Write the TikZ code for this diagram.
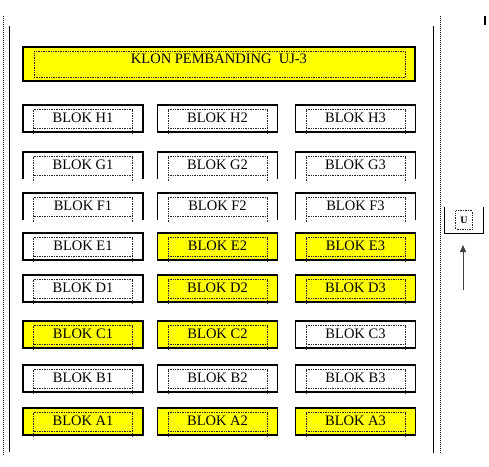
\documentclass[tikz,border=0pt]{standalone}
\usepackage{fontspec}
\setmainfont{Liberation Serif}
\usetikzlibrary{arrows.meta}
\definecolor{blkyellow}{HTML}{FFFF00}
\tikzset{
  blk/.style={minimum width=120pt, minimum height=27pt, inner sep=0pt, outer sep=0pt,
    font=\fontsize{14.5}{17}\selectfont, text height=9.6pt, text depth=2pt},
  edge/.style={line width=1.1pt, black},
  dotline/.style={line width=0.8pt, dash pattern=on 0.9pt off 1.1pt, black},
  dotbox/.style={line width=0.7pt, dash pattern=on 0.8pt off 0.9pt, black!85},
}
\newcommand\myblock[6]{% name, x, ytop, fill, text, open(1)/closed(0)
  \node[blk, fill=#4] (#1) at (#2,#3+13.5) {#5};
  \ifnum#6=1
    \draw[edge] (#1.south west) -- (#1.north west) -- (#1.north east) -- (#1.south east);
  \else
    \draw[edge] (#1.south west) rectangle (#1.north east);
  \fi
  \draw[dotbox] ([xshift=10.5pt,yshift=-4.5pt]#1.north west) -- ([xshift=10.5pt,yshift=-2pt]#1.south west);
  \draw[dotbox] ([xshift=-10.5pt,yshift=-4.5pt]#1.north east) -- ([xshift=-10.5pt,yshift=-2pt]#1.south east);
  \draw[dotbox] ([xshift=10.5pt,yshift=-4.5pt]#1.north west) -- ([xshift=-10.5pt,yshift=-4.5pt]#1.north east);
  \draw[dotbox] ([xshift=10.5pt,yshift=4pt]#1.south west) -- ([xshift=-10.5pt,yshift=4pt]#1.south east);
}
\begin{document}
\begin{tikzpicture}[x=1pt,y=-1pt]
\useasboundingbox (0,0) rectangle (489,466);
% frame lines
\draw[dotline] (3,16) -- (3,456);
\draw[edge] (9.5,26) -- (9.5,452);
\draw[edge] (433.5,26) -- (433.5,453);
\draw[dotline] (440.5,16) -- (440.5,454);
\draw[line width=1.3pt] (485,16) -- (485,25);
% title
\node[minimum width=392pt, minimum height=34pt, inner sep=0pt, fill=blkyellow, draw, line width=1.1pt,
  font=\fontsize{14.5}{17}\selectfont, text height=9.6pt, text depth=10pt] (title) at (219,64) {KLON PEMBANDING\ \ UJ-3};
\draw[dotbox] ([xshift=12pt,yshift=-5pt]title.north west) rectangle ([xshift=-10pt,yshift=4pt]title.south east);
% blocks
\myblock{H1}{83}{105}{white}{BLOK H1}{0}
\myblock{H2}{217.5}{105}{white}{BLOK H2}{0}
\myblock{H3}{355.5}{105}{white}{BLOK H3}{0}
\myblock{G1}{83}{152}{white}{BLOK G1}{1}
\myblock{G2}{217.5}{152}{white}{BLOK G2}{1}
\myblock{G3}{355.5}{152}{white}{BLOK G3}{1}
\myblock{F1}{83}{193}{white}{BLOK F1}{1}
\myblock{F2}{217.5}{193}{white}{BLOK F2}{1}
\myblock{F3}{355.5}{193}{white}{BLOK F3}{1}
\myblock{E1}{83}{233}{white}{BLOK E1}{0}
\myblock{E2}{217.5}{233}{blkyellow}{BLOK E2}{0}
\myblock{E3}{355.5}{233}{blkyellow}{BLOK E3}{0}
\myblock{D1}{83}{275}{white}{BLOK D1}{0}
\myblock{D2}{217.5}{275}{blkyellow}{BLOK D2}{0}
\myblock{D3}{355.5}{275}{blkyellow}{BLOK D3}{0}
\myblock{C1}{83}{321}{blkyellow}{BLOK C1}{0}
\myblock{C2}{217.5}{321}{blkyellow}{BLOK C2}{0}
\myblock{C3}{355.5}{321}{white}{BLOK C3}{0}
\myblock{B1}{83}{365}{white}{BLOK B1}{0}
\myblock{B2}{217.5}{365}{white}{BLOK B2}{0}
\myblock{B3}{355.5}{365}{white}{BLOK B3}{0}
\myblock{A1}{83}{408}{blkyellow}{BLOK A1}{0}
\myblock{A2}{217.5}{408}{blkyellow}{BLOK A2}{0}
\myblock{A3}{355.5}{408}{blkyellow}{BLOK A3}{0}
% north indicator
\node[minimum width=38pt, minimum height=26pt, inner sep=0pt] (ubox) at (464,220) {};
\draw[edge] (ubox.north west) -- (ubox.south west) -- (ubox.south east) -- (ubox.north east);
\node[inner sep=0pt, minimum width=16pt, minimum height=18pt, font=\fontsize{10}{12}\selectfont\bfseries] (u) at (464,220) {U};
\draw[dotbox] (u.south west) rectangle (u.north east);
\coordinate (arrS) at (463,290);
\coordinate (arrE) at (463,245);
\draw[line width=1pt, black!75, -{Triangle[width=6pt,length=7pt]}] (arrS) -- (arrE);
\end{tikzpicture}
\end{document}
